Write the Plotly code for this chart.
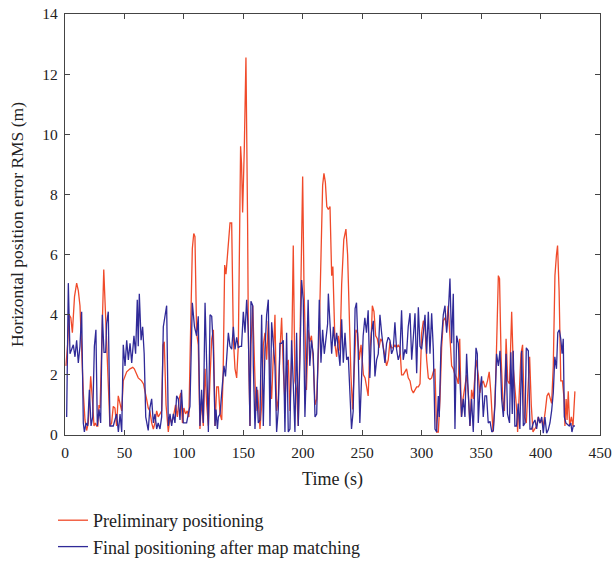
import plotly.graph_objects as go

# Preliminary positioning (red)
time_pre = [0.8, 2.2, 3.5, 4.9, 6.2, 8.0, 9.8, 11.2, 12.6, 14.0, 15.4, 16.8, 18.2, 19.6, 21.6, 23.0, 24.4, 25.6,
            26.6, 27.6, 28.6, 29.5, 31.0, 32.6, 33.6, 35.0, 36.4, 37.8, 39.2, 40.6, 42.0, 43.4, 44.8, 46.2, 47.7,
            49.0, 50.5, 51.9, 54.7, 57.0, 58.3, 59.4, 61.6, 64.4, 66.0, 68.6, 70.0, 71.4, 72.9, 74.3, 75.7, 77.1,
            78.4, 79.9, 81.3, 82.5, 83.5, 85.0, 86.9, 88.3, 89.7, 91.1, 93.0, 94.5, 96.0, 97.4, 98.8, 100.0, 101.4,
            102.8, 104.2, 105.6, 107.1, 108.3, 109.3, 110.7, 112.1, 113.5, 114.9, 116.3, 117.8, 119.2, 120.6,
            122.0, 123.4, 124.8, 126.2, 127.6, 129.0, 130.4, 131.8, 133.0, 134.3, 135.4, 137.4, 138.8, 140.2,
            141.6, 143.0, 144.4, 145.8, 147.1, 147.7, 148.5, 149.4, 150.8, 152.2, 153.6, 154.2, 155.6, 156.4,
            157.9, 159.3, 160.6, 162.0, 163.4, 164.0, 165.4, 166.8, 168.2, 169.6, 171.0, 172.4, 173.8, 175.2,
            176.6, 178.0, 179.4, 180.8, 182.2, 183.6, 185.0, 186.4, 187.8, 189.2, 190.6, 192.0, 192.7, 193.4,
            194.8, 196.2, 197.6, 199.0, 199.9, 201.0, 201.8, 203.1, 204.5, 205.9, 207.3, 208.8, 210.3, 211.7,
            213.9, 215.3, 216.7, 217.8, 219.0, 220.2, 221.5, 222.9, 224.3, 225.3, 226.3, 227.1, 228.5, 229.9,
            231.3, 232.7, 234.5, 236.3, 237.7, 239.1, 240.5, 241.9, 243.3, 244.7, 246.1, 247.5, 249.0, 251.0,
            252.4, 253.8, 255.0, 256.4, 257.8, 258.5, 259.9, 261.3, 262.7, 264.1, 265.5, 266.9, 268.3, 270.5,
            271.9, 273.3, 274.7, 276.1, 277.5, 278.9, 280.3, 281.7, 283.1, 284.5, 285.9, 287.3, 288.7, 290.2,
            291.6, 293.0, 294.4, 295.8, 297.2, 298.6, 300.0, 301.4, 302.8, 304.2, 305.6, 307.0, 308.4, 309.8,
            311.2, 312.0, 312.6, 314.0, 315.4, 316.8, 318.2, 319.6, 321.0, 322.3, 323.8, 325.2, 326.6, 328.0,
            329.4, 330.8, 332.0, 333.4, 334.8, 336.4, 337.8, 339.2, 340.6, 342.0, 343.4, 345.7, 347.6, 349.0,
            350.4, 351.8, 353.2, 354.0, 355.4, 356.8, 358.2, 360.0, 361.5, 362.6, 364.5, 365.5, 366.8, 368.2,
            369.6, 371.0, 372.4, 373.9, 375.7, 377.1, 378.5, 380.0, 380.7, 382.1, 383.5, 384.9, 386.4, 388.0,
            389.4, 390.8, 392.2, 393.6, 395.1, 396.7, 398.1, 399.5, 400.9, 402.3, 404.0, 405.4, 406.8, 408.2,
            409.3, 410.7, 412.1, 413.4, 414.3, 415.6, 417.0, 418.4, 419.8, 420.5, 421.5, 422.3, 423.3, 424.5,
            425.9, 427.3, 428.9]
rms_pre = [2.3, 3.0, 4.0, 3.9, 3.4, 4.6, 5.05, 4.8, 4.3, 2.5, 1.4, 0.5, 0.15, 0.4, 1.95, 1.2, 0.3, 0.4,
           0.3, 0.3, 1.0, 0.9, 3.2, 5.5, 4.5, 3.1, 1.5, 0.3, 0.4, 0.95, 0.9, 0.3, 1.3, 1.0, 0.8,
           1.8, 2.0, 2.1, 2.2, 2.25, 2.2, 2.1, 1.9, 1.8, 1.7, 1.2, 0.9, 0.8, 0.4, 0.2, 0.4, 0.8,
           0.6, 0.7, 0.8, 3.0, 3.1, 1.0, 0.1, 0.6, 0.4, 0.6, 1.0, 0.6, 1.2, 1.4, 0.4, 0.9, 0.7,
           0.8, 0.6, 3.4, 6.2, 6.7, 6.6, 3.4, 3.0, 0.2, 1.2, 0.3, 2.2, 1.0, 0.3,
           1.9, 3.2, 3.5, 0.3, 1.6, 1.6, 0.7, 0.5, 2.0, 5.65, 5.35, 6.5, 7.05, 7.05,
           3.2, 2.2, 1.9, 3.0, 6.5, 9.6, 9.0, 7.4, 9.5, 12.55, 7.0, 3.4, 0.3, 3.0,
           4.3, 2.5, 0.8, 1.5, 0.5, 0.2, 1.0, 3.0, 3.4, 2.5, 3.8, 2.0, 1.2, 2.8,
           4.0, 0.8, 1.2, 2.8, 3.9, 2.2, 1.1, 2.3, 2.5, 0.8, 2.5, 6.3, 2.5, 1.8,
           1.5, 0.3, 3.0, 6.0, 8.6, 5.0, 3.2, 1.5, 3.5, 3.1, 3.3, 2.5, 1.0, 1.2,
           3.5, 6.5, 8.3, 8.7, 8.4, 7.6, 7.5, 7.6, 5.3, 5.6, 4.5, 3.0, 2.6, 3.3,
           2.8, 5.0, 6.5, 6.85, 6.0, 3.5, 2.0, 0.85, 2.0, 3.5, 3.4, 2.5, 3.0, 2.0,
           1.9, 1.5, 1.3, 2.8, 3.5, 4.3, 4.1, 3.3, 3.2, 2.9, 3.2, 3.1, 2.8, 2.3,
           2.5, 3.1, 2.9, 2.9, 3.0, 2.9, 3.0, 2.9, 2.0, 2.0, 2.1, 2.2, 1.9, 1.8,
           1.5, 1.4, 1.5, 1.6, 1.6, 1.7, 3.4, 3.8, 3.6, 2.5, 1.9, 1.85, 1.9, 2.1,
           2.2, 0.3, 0.1, 0.1, 1.2, 2.9, 3.8, 3.9, 3.6, 4.3, 3.2, 2.3, 2.2, 2.0,
           1.9, 1.7, 3.2, 0.6, 1.2, 1.6, 2.0, 1.4, 0.3, 1.5, 1.2, 2.5, 2.0, 1.4,
           1.7, 1.8, 1.6, 1.6, 1.8, 2.1, 1.4, 0.1, 1.0, 2.3, 5.3, 5.2, 2.6, 1.2,
           0.8, 3.2, 1.8, 1.7, 4.1, 2.2, 1.5, 0.8, 0.1, 1.2, 2.7, 3.0, 0.6, 0.4,
           1.7, 2.6, 1.0, 0.1, 0.2, 0.3, 0.6, 0.4, 0.5, 0.3, 0.8, 1.3, 1.4, 1.2,
           1.05, 2.3, 5.3, 6.0, 6.3, 4.8, 1.8, 1.8, 1.2, 0.3, 1.2, 0.5, 1.45, 0.3,
           0.6, 0.3, 1.45]

# Final positioning after map matching (blue)
time_fin = [1.4, 2.8, 4.2, 5.6, 7.0, 8.4, 9.8, 11.2, 12.6, 14.0, 15.4, 16.3, 17.7, 19.1, 20.5, 21.9, 23.3,
            24.7, 26.0, 27.2, 28.6, 30.0, 31.4, 32.8, 34.2, 35.0, 36.4, 37.8, 40.6, 43.4, 44.9, 46.3, 47.7,
            49.0, 50.5, 51.9, 53.3, 54.7, 56.1, 58.0, 59.4, 60.8, 61.6, 62.5, 64.0, 65.3, 66.6, 67.9, 70.0,
            71.4, 72.9, 74.3, 75.7, 77.1, 78.4, 79.9, 81.3, 82.7, 84.1, 85.5, 86.9, 88.3, 89.7, 91.1, 92.5,
            93.9, 95.3, 96.7, 98.0, 99.5, 100.9, 102.3, 103.7, 105.1, 107.1, 108.9, 110.7, 112.1, 113.5, 114.9,
            116.3, 117.8, 119.2, 120.6, 122.0, 123.4, 124.8, 126.2, 127.0, 128.2, 129.0, 130.4, 131.8, 133.7,
            135.0, 137.4, 138.8, 140.2, 141.6, 143.0, 144.4, 145.8, 147.1, 148.5, 150.0, 151.4, 152.8, 154.2,
            155.6, 156.4, 157.9, 158.4, 159.8, 161.2, 162.6, 164.0, 165.4, 166.8, 168.2, 169.6, 171.0, 172.4,
            173.8, 175.2, 176.6, 178.0, 179.4, 180.8, 182.2, 183.6, 185.0, 186.4, 187.8, 189.2, 190.6, 192.0,
            193.4, 194.8, 196.2, 197.6, 199.0, 200.4, 201.8, 203.1, 204.5, 205.9, 207.3, 208.8, 210.3, 211.7,
            213.9, 215.3, 216.7, 218.1, 219.5, 220.9, 221.5, 222.9, 224.3, 225.7, 227.1, 228.5, 229.9, 231.3,
            232.7, 234.1, 235.5, 236.9, 238.3, 241.0, 242.4, 244.0, 245.2, 246.6, 248.0, 249.4, 250.8, 252.2,
            253.6, 255.0, 256.4, 257.8, 259.3, 260.7, 262.1, 263.5, 264.9, 266.3, 267.7, 269.1, 270.5, 271.9,
            273.3, 274.7, 276.1, 277.5, 278.9, 280.3, 281.7, 283.1, 284.5, 285.9, 287.3, 288.7, 290.2, 291.6,
            293.0, 294.4, 295.8, 297.2, 298.6, 300.0, 301.4, 302.8, 304.2, 305.6, 307.0, 308.4, 309.8, 311.2,
            312.6, 314.0, 314.8, 316.2, 318.2, 319.6, 321.0, 322.4, 323.8, 325.2, 326.6, 328.0, 329.4, 330.8,
            333.6, 335.0, 336.4, 337.8, 339.2, 340.6, 342.0, 343.4, 345.7, 346.8, 347.6, 349.0, 350.4, 351.8,
            353.2, 354.6, 356.0, 357.5, 359.0, 360.3, 361.7, 363.0, 364.5, 365.9, 367.3, 368.7, 370.1, 371.0,
            372.2, 373.9, 375.0, 376.2, 377.0, 378.4, 379.8, 381.2, 382.6, 384.1, 385.5, 386.9, 388.0, 389.7,
            391.1, 392.5, 393.9, 395.3, 396.7, 398.1, 399.5, 401.0, 402.3, 403.7, 405.1, 406.5, 407.9, 409.3,
            410.7, 412.0, 413.4, 414.5, 415.8, 417.0, 418.1, 419.1, 420.0, 421.3, 422.7, 424.1, 425.5, 426.4,
            427.5, 428.9]
rms_fin = [0.6, 5.05, 2.7, 2.85, 3.0, 2.6, 3.15, 2.4, 2.95, 4.1, 0.4, 0.1, 0.4, 0.3, 1.5, 0.3, 0.6,
           2.95, 3.5, 0.3, 0.85, 0.4, 4.0, 2.75, 2.75, 3.7, 4.1, 0.3, 0.3, 0.7, 0.1, 0.7, 0.1,
           3.0, 2.3, 3.15, 2.5, 3.05, 2.4, 3.3, 2.7, 4.5, 2.95, 4.7, 3.15, 3.6, 2.7, 0.6, 0.15,
           0.9, 1.2, 0.4, 0.7, 0.2, 0.4, 0.2, 0.6, 3.6, 3.95, 4.3, 0.3, 0.7, 0.3, 0.7, 0.4,
           1.3, 1.2, 0.5, 1.5, 0.4, 0.4, 0.4, 0.7, 0.95, 4.4, 3.6, 3.3, 3.95, 0.3, 1.5,
           0.4, 4.4, 2.3, 0.1, 4.0, 3.95, 2.85, 0.3, 0.85, 0.2, 0.6, 0.7, 1.4, 2.3,
           1.95, 3.4, 2.95, 2.85, 3.6, 2.85, 3.25, 2.9, 2.95, 2.95, 4.1, 3.4, 4.5, 3.4,
           0.3, 4.45, 4.3, 2.3, 0.2, 1.6, 0.4, 0.5, 4.0, 0.3, 2.85, 4.0, 4.5, 0.3,
           3.75, 3.15, 2.3, 0.1, 0.85, 3.05, 3.05, 3.15, 0.1, 3.4, 0.1, 0.2, 3.15, 1.7,
           0.1, 3.4, 0.3, 2.5, 5.15, 4.5, 0.6, 2.3, 4.5, 2.3, 3.15, 2.7, 0.6, 0.7,
           4.5, 2.4, 3.5, 2.7, 3.15, 3.7, 4.7, 3.8, 2.7, 3.6, 2.95, 3.4, 2.7, 2.3,
           3.85, 2.4, 3.4, 2.5, 2.6, 0.2, 0.8, 4.2, 4.4, 2.8, 0.4, 1.7, 3.3, 3.9,
           3.4, 4.15, 1.9, 3.4, 3.8, 1.95, 2.5, 2.7, 4.0, 3.4, 2.95, 2.4, 3.05, 3.25,
           3.15, 2.7, 2.85, 3.75, 2.85, 2.5, 2.7, 4.15, 2.5, 2.85, 2.7, 3.6, 4.05, 2.5,
           3.25, 4.05, 2.05, 4.25, 2.95, 2.85, 3.4, 4.0, 2.7, 4.1, 2.7, 4.05, 2.85, 0.2,
           0.1, 1.3, 0.6, 2.9, 4.0, 4.3, 3.4, 4.05, 5.2, 3.05, 4.7, 0.2, 3.3, 3.05,
           0.6, 1.2, 0.6, 2.7, 1.4, 0.3, 1.2, 0.1, 2.9, 2.7, 0.4, 1.5, 1.95, 0.6,
           1.3, 1.3, 0.4, 0.45, 0.1, 0.15, 1.05, 2.7, 2.3, 2.8, 1.2, 0.6, 1.7, 2.7,
           0.7, 0.4, 2.75, 0.7, 2.8, 0.3, 0.3, 1.05, 0.2, 2.8, 0.3, 0.4, 2.9, 2.8,
           0.2, 0.2, 0.4, 0.5, 0.2, 0.6, 0.4, 0.6, 0.06, 0.6, 0.06, 0.17, 0.4, 0.8,
           1.4, 2.6, 2.2, 3.4, 3.5, 3.2, 2.7, 3.2, 0.6, 0.4, 0.35, 0.3, 0.4, 0.1,
           0.3, 0.3]

x_ticks = [0, 50, 100, 150, 200, 250, 300, 350, 400, 450]
y_ticks = [0, 2, 4, 6, 8, 10, 12, 14]

SERIF = "Liberation Serif, DejaVu Serif, serif"

fig = go.Figure()
fig.add_trace(go.Scatter(x=time_pre, y=rms_pre, mode="lines", name="Preliminary positioning",
                         line=dict(color="#f04a2a", width=1.3)))
fig.add_trace(go.Scatter(x=time_fin, y=rms_fin, mode="lines", name="Final positioning after map matching",
                         line=dict(color="#302a98", width=1.3)))

axis_common = dict(showline=True, linecolor="#444444", linewidth=1.2, mirror="ticks",
                   ticks="inside", ticklen=5, tickcolor="#444444", showgrid=False, zeroline=False,
                   ticklabelstandoff=3,
                   tickfont=dict(family=SERIF, size=15.5, color="#222222"))

fig.update_layout(
    width=614, height=565,
    margin=dict(l=65, r=14, t=14, b=130),
    paper_bgcolor="white", plot_bgcolor="white",
    font=dict(family=SERIF, color="#222222"),
    xaxis=dict(range=[0, 450], tickvals=x_ticks, ticktext=[str(v) for v in x_ticks],
               automargin="bottom",
               title=dict(text="Time (s)", font=dict(family=SERIF, size=18), standoff=12),
               **axis_common),
    yaxis=dict(range=[0, 14], tickvals=y_ticks, ticktext=[str(v) for v in y_ticks],
               automargin="left",
               title=dict(text="Horizontal position error RMS (m)", font=dict(family=SERIF, size=17.5),
                          standoff=14),
               **axis_common),
    showlegend=True,
    legend=dict(x=-12 / 535, xref="paper", xanchor="left",
                y=1 - 502 / 565, yref="container", yanchor="top",
                orientation="v",
                font=dict(family=SERIF, size=18, color="#222222"), bgcolor="rgba(0,0,0,0)",
                itemwidth=30, tracegroupgap=0),
)

fig.write_html("out.html")
